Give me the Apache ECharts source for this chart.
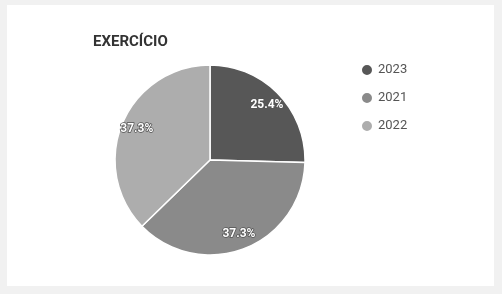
<!DOCTYPE html>
<html>
<head>
<meta charset="utf-8">
<script src="https://cdn.jsdelivr.net/npm/echarts@6/dist/echarts.min.js"></script>
<style>
  html, body { margin: 0; padding: 0; background: #f1f1f1; }
  #chart { width: 502px; height: 294px; }
</style>
</head>
<body>
<div id="chart"></div>
<script>
  // dados
  var anos = ['2023', '2021', '2022']
  var valores = [15, 22, 22]
  var cores = ['#575757', '#8a8a8a', '#adadad']

  var chart = echarts.init(document.getElementById('chart'))

  var fatias = anos.map(function(a, i){
    return { name: a, value: valores[i], itemStyle: { color: cores[i] } }
  })

  var option = {
    animation: false,
    graphic: [{
      type: 'rect',
      shape: { x: 7, y: 5, width: 487, height: 281 },
      style: { fill: '#ffffff' },
      z: -10
    }],
    title: {
      text: 'EXERCÍCIO',
      left: 88, top: 30,
      textStyle: { fontFamily: 'Roboto', fontWeight: 'bold', fontSize: 15, color: '#333' }
    },
    legend: {
      orient: 'vertical',
      left: 355, top: 58,
      icon: 'circle',
      itemWidth: 12, itemHeight: 12, itemGap: 14,
      data: anos,
      textStyle: { fontFamily: 'Roboto', fontSize: 13, color: '#555' }
    },
    series: [
      {
        type: 'pie',
        center: [210, 160],
        radius: [0, 95],
        startAngle: 90,
        percentPrecision: 1,
        itemStyle: { borderColor: '#fff', borderWidth: 1.5 },
        label: { show: false },
        labelLine: { show: false },
        data: fatias
      },
      //rótulos por cima
      {
        type: 'pie',
        center: [210, 160],
        radius: [58, 95],
        startAngle: 90,
        percentPrecision: 1,
        silent: true,
        itemStyle: { color: 'rgba(0,0,0,0)' },
        label: {
          show: true, position: 'inside',
          formatter: '{d}%',
          fontFamily: 'Roboto', fontWeight: 'bold', fontSize: 12,
          color: '#fff', textBorderColor: '#555', textBorderWidth: 1.5
        },
        labelLine: { show: false },
        data: anos.map(function(a, i){ return { name: a, value: valores[i] } })
      }
    ]
  }
  chart.setOption(option)
</script>
</body>
</html>
